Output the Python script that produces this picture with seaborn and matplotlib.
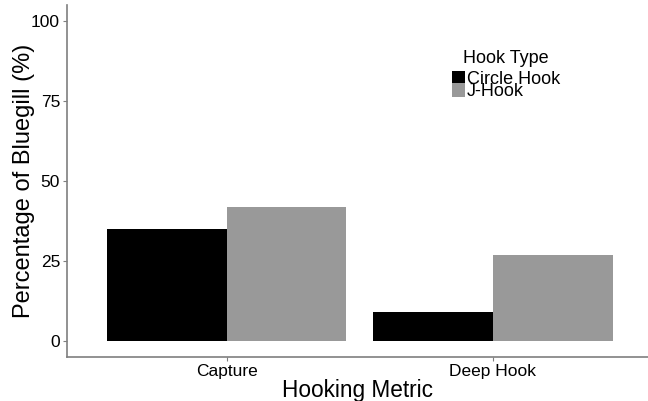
import pandas as pd
import matplotlib
matplotlib.use("Agg")
import matplotlib.pyplot as plt
import seaborn as sns

# values
metrics = ["Capture", "Deep Hook"]
hook_types = ["Circle Hook", "J-Hook"]
circle_hook = [35, 9]
j_hook = [42, 27]
hook_colors = ["#000000", "#999999"]
y_ticks = [0, 25, 50, 75, 100]

sns.set_style("white")
plt.rcParams["font.family"] = ["Liberation Sans", "DejaVu Sans"]
plt.rcParams["text.color"] = "black"
plt.rcParams["axes.labelcolor"] = "black"

df = pd.DataFrame({
    "Hooking Metric": metrics * 2,
    "Hook Type": [hook_types[0]] * 2 + [hook_types[1]] * 2,
    "Percentage": circle_hook + j_hook,
})

fig = plt.figure(figsize=(6.48, 4.01), dpi=100)
ax = fig.add_axes([67 / 648, 44 / 401, 581 / 648, 352 / 401])

sns.barplot(data=df, x="Hooking Metric", y="Percentage", hue="Hook Type",
            hue_order=hook_types, palette=hook_colors, width=0.9, gap=0,
            saturation=1, errorbar=None, linewidth=0, ax=ax)

ax.set_xlim(-0.6, 1.583)
ax.set_ylim(-5, 105)
ax.set_yticks(y_ticks)
ax.set_xlabel("Hooking Metric", fontsize=16.3)
ax.set_ylabel("Percentage of Bluegill (%)", fontsize=17)
ax.tick_params(axis="both", labelsize=12.5, length=3, width=0.8,
               color="#7f7f7f", labelcolor="black", pad=2, left=True, bottom=True)
ax.xaxis.labelpad = 0
ax.yaxis.labelpad = -3

for side in ["top", "right"]:
    ax.spines[side].set_visible(False)
for side in ["left", "bottom"]:
    ax.spines[side].set_color("#7f7f7f")
    ax.spines[side].set_linewidth(1.2)

leg = ax.legend(title="Hook Type", loc="center", frameon=False,
                bbox_to_anchor=(506 / 648, 1 - 75 / 401), bbox_transform=fig.transFigure,
                fontsize=13, title_fontsize=13, handlelength=0.72, handleheight=0.75,
                handletextpad=0.1, labelspacing=-0.25, borderaxespad=0, borderpad=0)
# a little more room between the title and the keys than between the keys
leg._legend_box.sep = 3

fig.savefig("out.png", dpi=100)
